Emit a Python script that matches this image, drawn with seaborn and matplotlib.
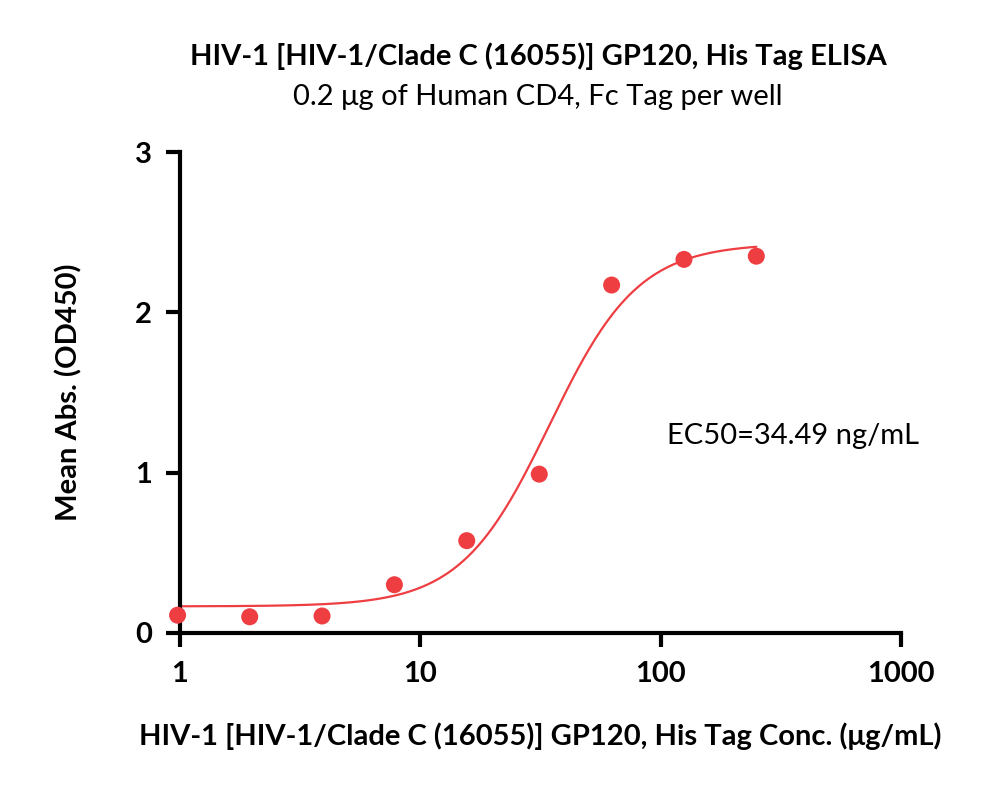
import numpy as np
import pandas as pd
import matplotlib
matplotlib.use("Agg")
import matplotlib.pyplot as plt
import seaborn as sns
from matplotlib.ticker import FixedLocator, NullLocator, FixedFormatter

# measured points
conc = [0.977, 1.95, 3.9, 7.8, 15.6, 31.25, 62.5, 125, 250]
absorb = [0.11, 0.10, 0.105, 0.30, 0.575, 0.99, 2.17, 2.33, 2.35]

# 4PL fit parameters
bottom, top, ec50, hill = 0.165, 2.43, 34.49, 2.35

sns.set_style("ticks")
plt.rcParams['font.family'] = ['Lato', 'DejaVu Sans']
plt.rcParams['text.color'] = 'black'
plt.rcParams['axes.labelcolor'] = 'black'
plt.rcParams['xtick.color'] = 'black'
plt.rcParams['ytick.color'] = 'black'

df = pd.DataFrame({"conc": conc, "od": absorb})
xfit = np.logspace(np.log10(conc[0]), np.log10(conc[-1]), 300)
fit = pd.DataFrame({"conc": xfit,
                    "od": bottom + (top - bottom) / (1 + (ec50 / xfit) ** hill)})

fig = plt.figure(figsize=(10, 7.98), dpi=100)
ax = fig.add_axes([0.18, 0.207, 0.721, 0.6025])

red = "#EE3E42"
sns.lineplot(data=fit, x="conc", y="od", color=red, linewidth=1.6, ax=ax)
sns.scatterplot(data=df, x="conc", y="od", color=red, s=150, edgecolor="none",
                ax=ax, zorder=3, clip_on=False)

ax.set_xscale("log")
ax.set_xlim(1, 1000)
ax.set_ylim(0, 3)
ax.xaxis.set_major_locator(FixedLocator([1, 10, 100, 1000]))
ax.xaxis.set_major_formatter(FixedFormatter(["1", "10", "100", "1000"]))
ax.xaxis.set_minor_locator(NullLocator())
ax.set_yticks([0, 1, 2, 3])

for side in ["top", "right"]:
    ax.spines[side].set_visible(False)
for side in ["left", "bottom"]:
    ax.spines[side].set_linewidth(3)
    ax.spines[side].set_color("black")
ax.tick_params(width=3, length=10, labelsize=21, pad=10)
for lab in ax.get_xticklabels() + ax.get_yticklabels():
    lab.set_fontweight("bold")

ax.set_xlabel("HIV-1 [HIV-1/Clade C (16055)] GP120, His Tag Conc. (μg/mL)",
              fontsize=21, fontweight="bold", labelpad=26)
ax.set_ylabel("Mean Abs. (OD450)", fontsize=21, fontweight="bold", labelpad=38)

fig.text(0.538, 0.93, "HIV-1 [HIV-1/Clade C (16055)] GP120, His Tag ELISA",
         ha="center", va="center", fontsize=21, fontweight="bold")
fig.text(0.538, 0.878, "0.2 μg of Human CD4, Fc Tag per well",
         ha="center", va="center", fontsize=21)
ax.text(0.676, 0.41, "EC50=34.49 ng/mL", transform=ax.transAxes,
        fontsize=21, ha="left", va="center")

fig.savefig("out.png", dpi=100)
